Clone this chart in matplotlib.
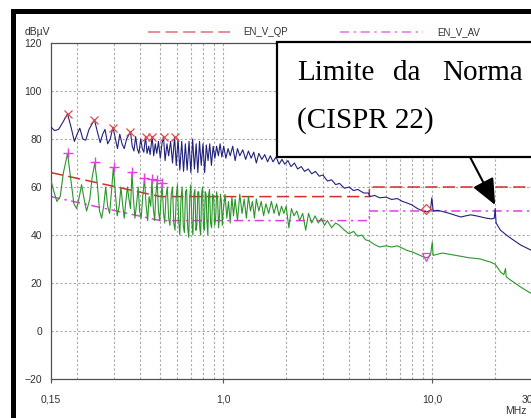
import matplotlib
matplotlib.use('Agg')
import matplotlib.pyplot as plt
from matplotlib.patches import Rectangle
from matplotlib.lines import Line2D

# espectro medido (QP, azul) - MHz / dBuV
blue_f = [0.150, 0.156, 0.163, 0.171, 0.180, 0.187, 0.194, 0.200, 0.206, 0.213,
          0.220, 0.228, 0.242, 0.250, 0.258, 0.265, 0.272, 0.280, 0.288, 0.297,
          0.305, 0.312, 0.320, 0.328, 0.336, 0.345, 0.360, 0.367, 0.374, 0.381,
          0.388, 0.395, 0.403, 0.410, 0.417, 0.425, 0.432, 0.440, 0.447, 0.457,
          0.465, 0.473, 0.481, 0.490, 0.500, 0.509, 0.518, 0.527, 0.538, 0.548,
          0.560, 0.572, 0.585, 0.596, 0.608, 0.620, 0.633, 0.646, 0.659, 0.672,
          0.686, 0.700, 0.714, 0.728, 0.742, 0.756, 0.770, 0.785, 0.800, 0.815,
          0.830, 0.846, 0.862, 0.878, 0.895, 0.912, 0.930, 0.948, 0.966, 0.985,
          1.005, 1.03, 1.055, 1.08, 1.11, 1.14, 1.17, 1.20, 1.24, 1.28,
          1.32, 1.36, 1.40, 1.44, 1.48, 1.53, 1.58, 1.63, 1.68, 1.73,
          1.79, 1.85, 1.91, 1.97, 2.04, 2.11, 2.19, 2.27, 2.36, 2.45,
          2.55, 2.65, 2.76, 2.88, 3.0, 3.15, 3.3, 3.45, 3.6, 3.8,
          4.0, 4.2, 4.4, 4.7, 4.95, 5.05, 5.3, 5.6, 6.0, 6.4,
          6.8, 7.2, 7.6, 8.0, 8.5, 9.0, 9.4, 9.8, 9.95, 10.1,
          10.6, 11.3, 12.1, 12.9, 13.7, 14.5, 15.3, 16.2, 17.2, 18.2,
          19.2, 19.8, 20.0, 20.2, 21.2, 22.4, 23.7, 25.0, 26.5, 28.0, 30.0]
blue_v = [85, 83.5, 84, 87, 90.5, 85, 79, 82, 84.5, 80,
          79.5, 84, 88, 83, 78.5, 82, 84, 78, 80, 85,
          80, 76, 82, 78, 76, 80, 83, 77, 75, 81,
          76, 74, 80, 76, 74.5, 81, 74, 77, 73.5, 81,
          73, 78, 74, 79, 72, 78, 81, 71, 78, 73,
          79, 70, 81, 69, 80, 67, 79, 66.5, 78, 67,
          79, 66, 80, 67.5, 78, 66, 79, 69, 78, 66,
          77.5, 71, 78, 69, 77, 72, 77, 73, 78, 72.5,
          77, 72, 76, 73, 77, 71, 76, 73, 75.5, 71.5,
          75, 72, 74.5, 70, 74, 71.5, 73.5, 70.5, 73, 70.5,
          72.5, 69.5, 71.5, 69.5, 71, 68.5, 70, 67.5, 68.5, 66.5,
          67.5, 65.5, 66.5, 64.5, 65, 62.5, 63, 61, 61.5, 59.5,
          60, 58.5, 59, 57.5, 57.5, 56, 56.5, 55.5, 55.8, 54.8,
          55.2, 54, 53.3, 52.5, 51, 50, 49.6, 50.3, 55.5, 50,
          50.3, 49.7, 49, 48.2, 47.5, 48, 48.4, 48, 47.5, 47,
          46.7, 47, 51, 45, 42, 40.3, 38.7, 37.3, 35.8, 34.8, 33.5]

# espectro medido (AV, verde)
green_f = [0.150, 0.155, 0.160, 0.166, 0.172, 0.180, 0.186, 0.193, 0.199, 0.205,
           0.210, 0.216, 0.222, 0.230, 0.236, 0.243, 0.250, 0.256, 0.262, 0.268,
           0.274, 0.280, 0.286, 0.292, 0.298, 0.305, 0.311, 0.318, 0.324, 0.330,
           0.336, 0.342, 0.348, 0.354, 0.360, 0.366, 0.372, 0.378, 0.385, 0.392,
           0.398, 0.405, 0.412, 0.420, 0.428, 0.435, 0.442, 0.450, 0.456, 0.463,
           0.470, 0.476, 0.483, 0.490, 0.497, 0.504, 0.510, 0.518, 0.525, 0.532,
           0.540, 0.548, 0.556, 0.564, 0.572, 0.580, 0.588, 0.596, 0.604, 0.612,
           0.620, 0.628, 0.636, 0.644, 0.652, 0.660, 0.668, 0.676, 0.684, 0.692,
           0.700, 0.708, 0.716, 0.724, 0.732, 0.740, 0.748, 0.756, 0.764, 0.772,
           0.780, 0.788, 0.796, 0.804, 0.812, 0.820, 0.828, 0.836, 0.844, 0.852,
           0.860, 0.870, 0.880, 0.890, 0.900, 0.910, 0.920, 0.930, 0.940, 0.950,
           0.960, 0.970, 0.980, 0.990, 1.00, 1.02, 1.04, 1.06, 1.08, 1.10,
           1.12, 1.14, 1.17, 1.20, 1.23, 1.26, 1.29, 1.32, 1.35, 1.38,
           1.41, 1.44, 1.48, 1.52, 1.56, 1.60, 1.65, 1.70, 1.75, 1.80,
           1.85, 1.90, 1.95, 2.00, 2.06, 2.12, 2.18, 2.25, 2.32, 2.40,
           2.48, 2.56, 2.65, 2.75, 2.85, 2.95, 3.05, 3.15, 3.3, 3.45,
           3.6, 3.8, 4.0, 4.2, 4.4, 4.6, 4.8, 5.0, 5.3, 5.6,
           6.0, 6.4, 6.8, 7.2, 7.6, 8.0, 8.5, 9.0, 9.4, 9.8,
           10.0, 10.1, 10.6, 11.2, 12.0, 13.0, 14.0, 15.0, 16.0, 17.0,
           18.0, 19.0, 20.0, 20.7, 21.2, 22.0, 22.4, 22.6, 23.7, 25.0,
           26.5, 28.0, 30.0]
green_v = [62.5, 58, 54, 56, 66, 74, 64, 53, 51, 56,
           61, 55, 50, 55, 64, 70, 61, 50, 47, 52,
           60, 52, 49, 58, 68, 57, 48, 52, 60, 53,
           47, 54, 60, 55, 51, 66, 55, 47, 53, 60,
           50, 47, 56, 63.5, 52, 46, 56, 52, 63, 51,
           46, 57, 62.5, 50, 46, 55, 61.5, 49, 45, 56,
           60, 47, 44, 57, 60, 45, 42, 56, 61, 46,
           40, 55, 60, 44, 41, 58, 59, 43, 39, 56,
           61, 45, 40, 57, 59, 42, 44, 58, 58, 43,
           40, 57, 60, 44, 42, 58, 57, 45, 40, 57,
           59, 45, 43, 57, 56, 44, 47, 58, 55, 43,
           48, 57, 54, 44, 50, 57, 47, 54, 45, 56,
           48, 55, 46, 57, 49, 55, 47, 56, 50, 54,
           47, 55, 50, 54, 48, 53, 49, 54, 49, 53,
           48, 52, 49, 52, 43, 51, 48, 50, 46, 49,
           42, 49, 45, 48, 45, 47, 44, 46, 43, 45,
           44, 42, 40.5, 41.5, 39.5, 40, 38, 37.5, 36, 35,
           35.5, 35, 35.5, 34.5, 33.5, 33, 32, 31, 30.5, 31.5,
           37, 31.5, 32, 32.5, 32, 31.5, 31, 30.5, 30.3, 30,
           29.3, 28.7, 27.8, 26, 24.6, 23.5, 26, 22.5, 21.2, 19.8,
           18.3, 17, 15.5]

# limites EN 55022 / CISPR 22 classe B
qp_f = [0.15, 0.5, 5, 5, 30]
qp_v = [66, 56, 56, 60, 60]
av_f = [0.15, 0.5, 5, 5, 30]
av_v = [56, 46, 46, 50, 50]

# picos marcados
qp_pk_f = [0.180, 0.242, 0.297, 0.360, 0.425, 0.457, 0.518, 0.585]
qp_pk_v = [90.5, 88, 84.5, 83, 81, 81, 81, 81]
av_pk_f = [0.180, 0.243, 0.300, 0.366, 0.420, 0.456, 0.483, 0.510]
av_pk_v = [74.2, 70.4, 68.3, 66.3, 63.7, 63.3, 63, 61.7]

grid_x = [0.2, 0.3, 0.4, 0.5, 0.6, 0.7, 0.8, 0.9, 1, 2, 3, 4, 5, 6, 7, 8, 9, 10, 20]
grid_y = [0, 20, 40, 60, 80, 100]
y_ticks = [-20, 0, 20, 40, 60, 80, 100, 120]
x_ticks = [0.15, 1.0, 10.0, 30.0]
x_labels = ['0,15', '1,0', '10,0', '30,0']

W, H = 531, 418
plt.rcParams['font.family'] = ['Liberation Sans', 'DejaVu Sans']

def fx(x):
    return x / W

def fy(y):
    return 1 - y / H

fig = plt.figure(figsize=(W / 100, H / 100), dpi=100)
ax = fig.add_axes([fx(51), fy(379), (532 - 51) / W, (379 - 43) / H])
ax.set_xscale('log')
ax.set_xlim(0.15, 30)
ax.set_ylim(-20, 120)

for g in grid_x:
    ax.axvline(g, color='#a8a8a8', lw=0.8, ls=(0, (2, 2)), zorder=1)
for g in grid_y:
    ax.axhline(g, color='#a8a8a8', lw=0.8, ls=(0, (2, 2)), zorder=1)

ax.plot(qp_f, qp_v, color='#d03030', lw=1.1, ls=(0, (8, 3.5)), zorder=2)
ax.plot(av_f, av_v, color='#e040e0', lw=1.1, ls=(0, (6, 3, 1.5, 3)), zorder=2)

ax.plot(green_f, green_v, color='#2a962a', lw=0.8, zorder=3)
ax.plot(blue_f, blue_v, color='#22227e', lw=0.8, zorder=3)

ax.plot(qp_pk_f, qp_pk_v, ls='none', marker='x', ms=6, mew=0.9, color='#e04848', zorder=4)
ax.plot(av_pk_f, av_pk_v, ls='none', marker='+', ms=7, mew=1.0, color='#e040e0', zorder=4)
ax.plot([9.3], [50.8], ls='none', marker='D', ms=5, mfc='none', mec='#e04848', mew=0.9, zorder=4)
ax.plot([9.3], [30.8], ls='none', marker='v', ms=6, mfc='none', mec='#e040e0', mew=0.9, zorder=4)

ax.set_yticks(y_ticks)
ax.set_xticks(x_ticks)
ax.set_xticklabels(x_labels)
ax.minorticks_off()
ax.tick_params(axis='y', length=0, pad=6.5, labelsize=7.5, labelcolor='#333333')
ax.tick_params(axis='x', length=3, width=0.8, color='#555555', pad=8,
               labelsize=7.5, labelcolor='#333333')
for s in ['left', 'bottom', 'top']:
    ax.spines[s].set_color('#505050')
    ax.spines[s].set_linewidth(0.9)
ax.spines['right'].set_visible(False)

fig.text(fx(25), fy(32), 'dB\u00b5V', fontsize=7.5, color='#333333', va='center')
fig.text(fx(505), fy(411), 'MHz', fontsize=7.5, color='#333333', va='center')

# legenda
fig.add_artist(Line2D([fx(148), fx(230)], [fy(32), fy(32)], color='#e07070',
                      lw=1.1, ls=(0, (8, 3.5))))
fig.text(fx(243), fy(32), 'EN_V_QP', fontsize=7, color='#333333', va='center')
fig.add_artist(Line2D([fx(340), fx(423)], [fy(32), fy(32)], color='#e070e0',
                      lw=1.1, ls=(0, (6, 3, 1.5, 3))))
fig.text(fx(437), fy(32), 'EN_V_AV', fontsize=7, color='#333333', va='center')

# moldura preta
fig.add_artist(Rectangle((fx(11), fy(14)), (W - 11) / W, 5 / H, facecolor='black',
                         edgecolor='none', zorder=8))
fig.add_artist(Rectangle((fx(11), 0), 4.5 / W, (H - 9) / H, facecolor='black',
                         edgecolor='none', zorder=8))

# caixa de anotacao
fig.add_artist(Rectangle((fx(277), fy(157)), (545 - 277) / W, (157 - 42) / H,
                         facecolor='white', edgecolor='black', lw=1.6, zorder=5))
serif = ['Liberation Serif', 'DejaVu Serif']
for word, x0 in [('Limite', 297), ('da', 393), ('Norma', 442)]:
    fig.text(fx(x0), fy(80), word, fontsize=21, family=serif, va='baseline', zorder=6)
fig.text(fx(297), fy(128), '(CISPR 22)', fontsize=21, family=serif, va='baseline', zorder=6)

ax.annotate('', xy=(20.0, 52.5), xycoords='data', xytext=(fx(470), fy(157)),
            textcoords='figure fraction', annotation_clip=False,
            arrowprops=dict(arrowstyle='-|>,head_length=0.8,head_width=0.35',
                            mutation_scale=20, color='black', lw=1.5,
                            shrinkA=0, shrinkB=0))

fig.savefig('out.png', dpi=100)
